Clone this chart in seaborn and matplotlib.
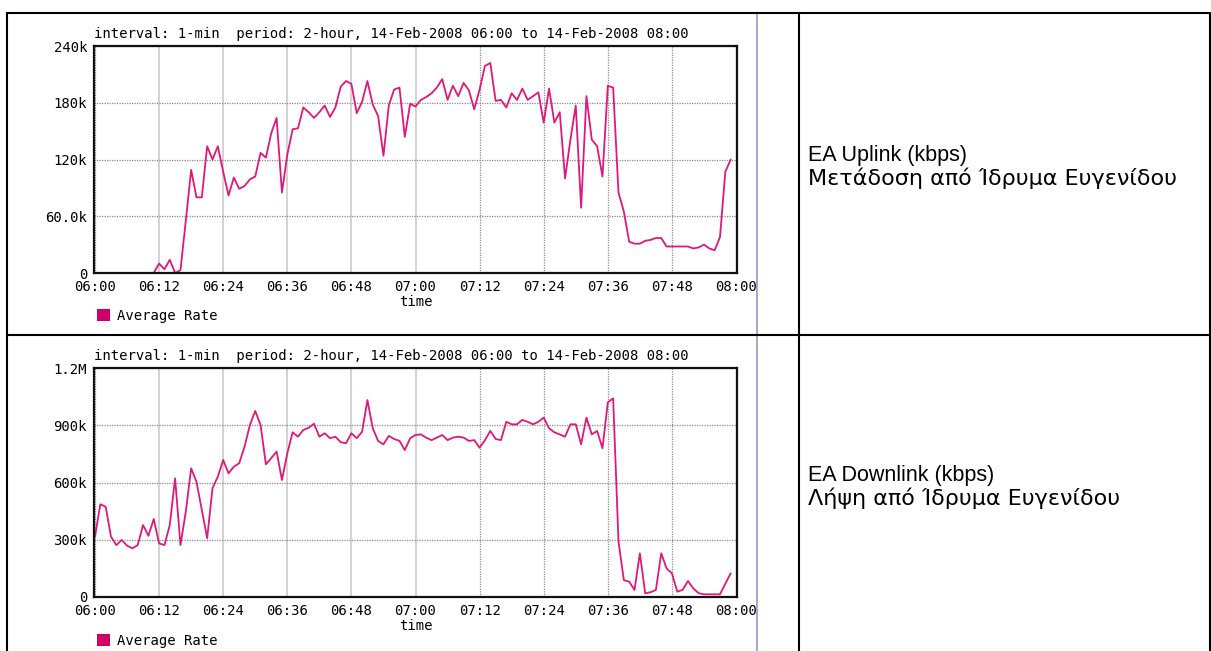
import numpy as np
import pandas as pd
import matplotlib
matplotlib.use("Agg")
import matplotlib.pyplot as plt
import matplotlib.dates as mdates
from matplotlib.patches import Patch
from matplotlib.lines import Line2D
import seaborn as sns

# DATA =====================================================================

times = pd.date_range("2008-02-14 06:00", periods=120, freq="1min")
t_end = pd.Timestamp("2008-02-14 08:00")

# average rate, in thousands
uplink_k = [
    0, 0, 0, 0, 0, 0, 0, 0, 0, 0,
    0, 0, 10, 4, 14, 0, 3, 55, 109, 80,
    80, 134, 120, 134, 107, 82, 101, 89, 92, 99,
    102, 127, 122, 148, 164, 85, 125, 152, 153, 175,
    170, 164, 170, 177, 165, 175, 197, 203, 200, 169,
    181, 203, 178, 166, 124, 177, 194, 196, 144, 179,
    176, 183, 186, 190, 196, 205, 183, 198, 187, 201,
    193, 173, 194, 219, 222, 182, 183, 175, 190, 183,
    195, 183, 187, 191, 159, 195, 159, 170, 100, 141,
    177, 69, 187, 141, 134, 102, 198, 196, 85, 65,
    33, 31, 31, 34, 35, 37, 37, 28, 28, 28,
    28, 28, 26, 27, 30, 26, 24, 38, 107, 120,
]
downlink_k = [
    316, 486, 473, 316, 272, 299, 269, 255, 272, 377,
    321, 409, 281, 272, 377, 622, 272, 447, 674, 604,
    456, 308, 570, 631, 718, 648, 683, 701, 788, 901,
    975, 901, 695, 728, 762, 613, 753, 863, 840, 875,
    887, 908, 840, 858, 832, 840, 811, 806, 858, 832,
    866, 1032, 884, 818, 800, 844, 828, 818, 770, 832,
    849, 852, 835, 822, 835, 849, 822, 835, 840, 835,
    818, 822, 782, 822, 870, 828, 822, 918, 905, 905,
    928, 918, 905, 918, 940, 884, 863, 852, 840, 905,
    905, 800, 940, 852, 870, 779, 1020, 1041, 290, 89,
    80, 37, 229, 19, 25, 37, 229, 150, 124, 28,
    37, 84, 45, 20, 14, 14, 14, 14, 70, 124,
]

title_str = "interval: 1-min  period: 2-hour, 14-Feb-2008 06:00 to 14-Feb-2008 08:00"
up_ticks = [0, 60, 120, 180, 240]
up_tick_labels = ["0", "60.0k", "120k", "180k", "240k"]
down_ticks = [0, 300, 600, 900, 1200]
down_tick_labels = ["0", "300k", "600k", "900k", "1.2M"]
legend_label = "Average Rate"
up_text = ["EA Uplink (kbps)", "Μετάδοση από Ίδρυμα Ευγενίδου"]
down_text = ["EA Downlink (kbps)", "Λήψη από Ίδρυμα Ευγενίδου"]

# STYLE ====================================================================

sns.set_style("white")
plt.rcParams["font.family"] = ["DejaVu Sans Mono"]
plt.rcParams["text.color"] = "black"
plt.rcParams["axes.labelcolor"] = "black"
line_color = "#e0187c"
legend_color = "#cc0066"
W, H = 1211, 651

fig = plt.figure(figsize=(W / 100, H / 100), dpi=100)


def px_rect(l, t, r, b):
    return [l / W, 1 - b / H, (r - l) / W, (b - t) / H]


def fig_line(x0, y0, x1, y1, color="black", lw=1.5):
    fig.add_artist(Line2D([x0 / W, x1 / W], [1 - y0 / H, 1 - y1 / H],
                          transform=fig.transFigure, color=color, lw=lw))


def draw_panel(ax, values, yticks, ylabels):
    df = pd.DataFrame({"time": times, "rate": values})
    sns.lineplot(data=df, x="time", y="rate", ax=ax, color=line_color, linewidth=1.3)
    ax.set_xlim(times[0] - pd.Timedelta(seconds=11), t_end + pd.Timedelta(seconds=11))
    ax.set_ylim(yticks[0], yticks[-1])
    ax.xaxis.set_major_locator(mdates.MinuteLocator(byminute=[0, 12, 24, 36, 48]))
    ax.xaxis.set_major_formatter(mdates.DateFormatter("%H:%M"))
    ax.set_yticks(yticks, ylabels)
    ax.tick_params(length=0, pad=5, labelsize=10, colors="black")
    ax.set_xlabel("time", fontsize=10, labelpad=1)
    ax.set_ylabel("")
    ax.set_title(title_str, loc="left", pad=6, fontsize=10, color="black")
    ax.grid(axis="y", color="#8a8a8a", linestyle=(0, (1, 1)), lw=0.9)
    ax.grid(axis="x", color="#8a8a8a", linestyle=(0, (1, 1)), lw=0.9)
    for i, gl in enumerate(ax.get_xgridlines()):
        if 1 <= i <= 5:
            gl.set_linestyle("-")
            gl.set_color("#cccccc")
            gl.set_linewidth(1.2)
    for s in ax.spines.values():
        s.set_color("#111111")
        s.set_linewidth(1.6)
    ax.legend(handles=[Patch(facecolor=legend_color, edgecolor="none", label=legend_label)],
              loc="center left", bbox_to_anchor=(0.005, -0.19), frameon=False,
              handlelength=0.95, handleheight=0.95, handletextpad=0.45,
              borderaxespad=0, borderpad=0, prop={"size": 10})


ax1 = fig.add_axes(px_rect(94, 46, 737, 273))
ax2 = fig.add_axes(px_rect(94, 368, 737, 597))
draw_panel(ax1, uplink_k, up_ticks, up_tick_labels)
draw_panel(ax2, downlink_k, down_ticks, down_tick_labels)

# table frame
fig_line(757, 13, 757, 651, color="#9a9ac0", lw=1.2)
fig_line(7, 13, 1210, 13)
fig_line(7, 13, 7, 651)
fig_line(7, 335, 1210, 335)
fig_line(799, 13, 799, 651)
fig_line(1210, 13, 1210, 651)

for lines, base in [(up_text, 161), (down_text, 481)]:
    fig.text(808 / W, 1 - base / H, lines[0], fontsize=15.5,
             family=["Liberation Sans", "DejaVu Sans"], va="baseline", ha="left", color="black")
    fig.text(808 / W, 1 - (base + 24) / H, lines[1], fontsize=16,
             family=["DejaVu Sans"], va="baseline", ha="left", color="black")

fig.savefig("out.png", dpi=100)
